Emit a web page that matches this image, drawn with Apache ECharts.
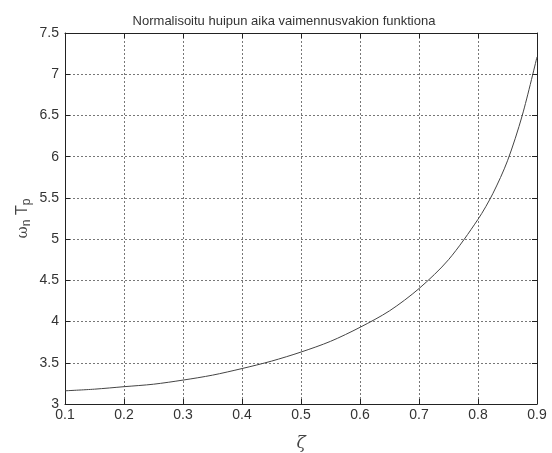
<!DOCTYPE html>
<html><head><meta charset="utf-8">
<script src="https://cdn.jsdelivr.net/npm/echarts@6/dist/echarts.min.js"></script>
<style>html,body{margin:0;padding:0;background:#fff}#c{width:552px;height:453px}</style>
</head><body><div id="c"></div>
<script>
const zeta = [0.1,0.15,0.2,0.25,0.3,0.35,0.4,0.45,0.5,0.55,0.6,0.65,0.7,0.75,0.8,0.825,0.85,0.875,0.9];
const wnTp = [3.16,3.18,3.21,3.24,3.29,3.35,3.43,3.52,3.63,3.76,3.93,4.13,4.40,4.75,5.24,5.55,5.95,6.50,7.21];
const xTicks = [0.1,0.2,0.3,0.4,0.5,0.6,0.7,0.8,0.9];
const yTicks = [3,3.5,4,4.5,5,5.5,6,6.5,7,7.5];
const titleText = 'Normalisoitu huipun aika vaimennusvakion funktiona';

const font = 'Liberation Sans, Arial, sans-serif';
const chart = echarts.init(document.getElementById('c'), null, {renderer:'canvas'});
const grid = {left:65, right:15, top:33, bottom:49, containLabel:false, outerBoundsMode:'none'};
const axisCommon = {
  axisLine:{show:true, onZero:false, lineStyle:{color:'#222', width:1}},
  axisTick:{show:true, inside:true, length:5, lineStyle:{color:'#222'}},
  splitLine:{show:true, lineStyle:{color:'#555', type:[2,2], width:0.8}},
  axisLabel:{color:'#333', fontFamily:font, fontSize:14}
};
chart.setOption({
  animation:false,
  title:{text:titleText, left:279, top:10, textAlign:'center',
    textStyle:{fontFamily:font, fontSize:13, fontWeight:'normal', color:'#333'}},
  grid:grid,
  xAxis:[
    Object.assign({type:'value', min:0.1, max:0.9, interval:0.1, position:'bottom',
      name:'ζ', nameLocation:'middle', nameGap:31, nameMoveOverlap:false,
      nameTextStyle:{fontFamily:'DejaVu Serif, serif', fontStyle:'italic', fontSize:17, color:'#444'}}, axisCommon,
      {axisLabel:Object.assign({}, axisCommon.axisLabel, {margin:4, formatter:v=>String(+v.toFixed(1))})}),
    {type:'value', min:0.1, max:0.9, interval:0.1, position:'top',
      axisLine:{show:true, onZero:false, lineStyle:{color:'#222'}},
      axisTick:{show:true, inside:true, length:5, lineStyle:{color:'#222'}},
      axisLabel:{show:false}, splitLine:{show:false}}
  ],
  yAxis:[
    Object.assign({type:'value', min:3, max:7.5, interval:0.5, position:'left',
      name:'{w|ω}{s|n}{t| T}{s2|p}', nameLocation:'middle', nameGap:32, nameRotate:90, nameMoveOverlap:false,
      nameTextStyle:{rich:{
        w:{fontFamily:'DejaVu Serif, serif', fontSize:15, color:'#444'},
        s:{fontFamily:font, fontSize:12, color:'#444', verticalAlign:'bottom', padding:[8,0,0,0]},
        t:{fontFamily:font, fontSize:16, color:'#444'},
        s2:{fontFamily:font, fontSize:12, color:'#444', verticalAlign:'bottom', padding:[8,0,0,0]}
      }}}, axisCommon,
      {axisLabel:Object.assign({}, axisCommon.axisLabel, {margin:6, formatter:v=>String(+v.toFixed(1))})}),
    {type:'value', min:3, max:7.5, interval:0.5, position:'right',
      axisLine:{show:true, onZero:false, lineStyle:{color:'#222'}},
      axisTick:{show:true, inside:true, length:5, lineStyle:{color:'#222'}},
      axisLabel:{show:false}, splitLine:{show:false}}
  ],
  series:[{
    type:'line', data:zeta.map((z,i)=>[z,wnTp[i]]), smooth:0.3, showSymbol:false,
    lineStyle:{color:'#444', width:1}, xAxisIndex:0, yAxisIndex:0
  }]
});
</script></body></html>
